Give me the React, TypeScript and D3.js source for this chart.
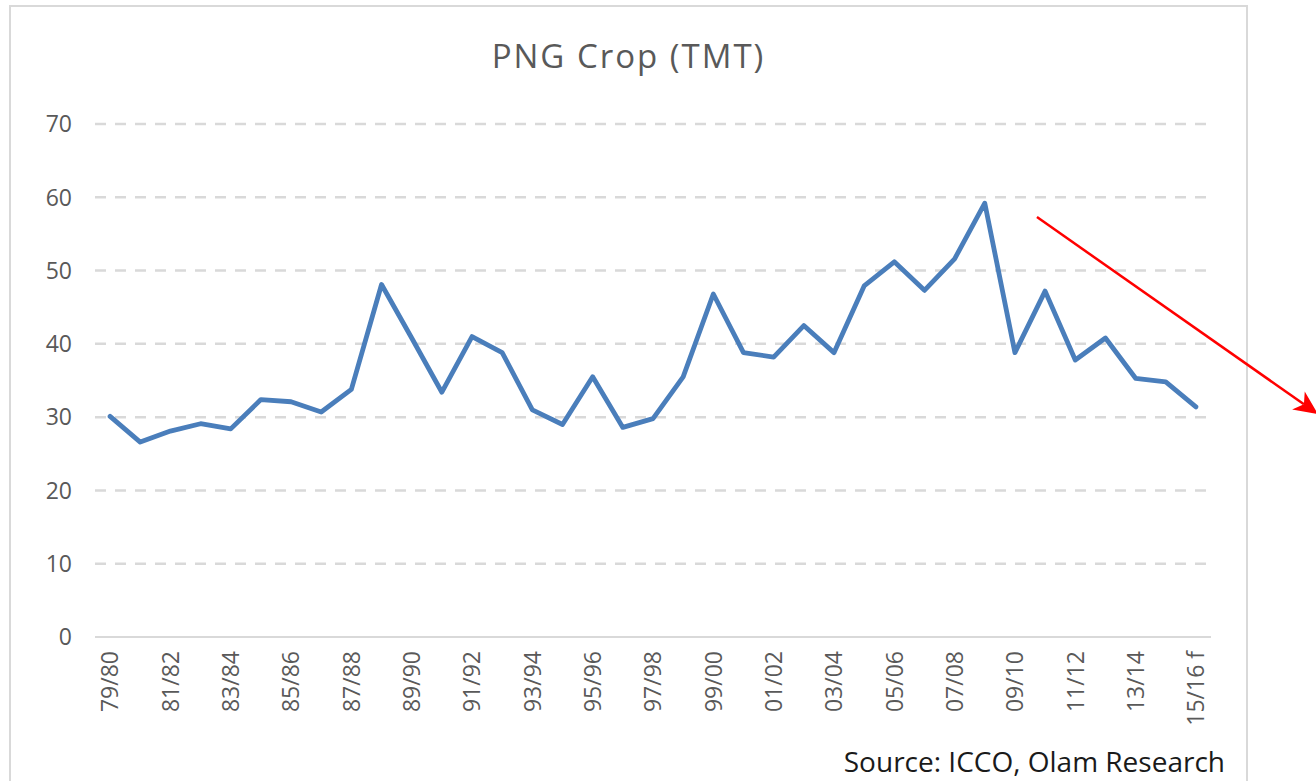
import React from "react";
import * as d3 from "d3";

// PNG cocoa crop by season, thousand metric tonnes
const seasons = [
  "79/80", "80/81", "81/82", "82/83", "83/84", "84/85", "85/86", "86/87",
  "87/88", "88/89", "89/90", "90/91", "91/92", "92/93", "93/94", "94/95",
  "95/96", "96/97", "97/98", "98/99", "99/00", "00/01", "01/02", "02/03",
  "03/04", "04/05", "05/06", "06/07", "07/08", "08/09", "09/10", "10/11",
  "11/12", "12/13", "13/14", "14/15", "15/16 f",
];

const crop = [
  30.1, 26.6, 28.1, 29.1, 28.4, 32.4, 32.1, 30.7,
  33.8, 48.1, 40.8, 33.4, 41.0, 38.8, 31.0, 29.0,
  35.5, 28.6, 29.8, 35.5, 46.8, 38.8, 38.2, 42.5,
  38.8, 47.9, 51.2, 47.3, 51.6, 59.2, 38.8, 47.2,
  37.8, 40.8, 35.3, 34.8, 31.4,
];

const yTicks = [0, 10, 20, 30, 40, 50, 60, 70];

// red trend arrow, in [season index, value]
const trendFrom = [30.73, 57.3];
const trendTo = [40.05, 30.4];

const W = 1316;
const H = 781;
const font = "'Open Sans', 'Noto Sans', sans-serif";

export default function App() {
  const x = d3.scaleLinear().domain([-0.5, seasons.length - 0.5]).range([95, 1211]);
  const y = d3.scaleLinear().domain([0, 70]).range([637, 124]);

  const line = d3
    .line<number>()
    .x((_, i) => x(i))
    .y((d) => y(d));

  // arrow geometry
  const x1 = x(trendFrom[0]);
  const y1 = y(trendFrom[1]);
  const x2 = x(trendTo[0]);
  const y2 = y(trendTo[1]);
  const ang = Math.atan2(y2 - y1, x2 - x1);
  const len = 24;
  const half = 11;
  const bx = x2 - len * Math.cos(ang);
  const by = y2 - len * Math.sin(ang);
  const nx = x2 - len * 0.72 * Math.cos(ang);
  const ny = y2 - len * 0.72 * Math.sin(ang);
  const px = -Math.sin(ang) * half;
  const py = Math.cos(ang) * half;
  const head = `M${x2},${y2}L${bx + px},${by + py}L${nx},${ny}L${bx - px},${by - py}Z`;

  return (
    <svg
      width={W}
      height={H}
      style={{ position: "absolute", left: 0, top: 0, display: "block", background: "#fff" }}
    >
      {/* chart area border */}
      <rect x={10} y={6} width={1237} height={H} fill="#fff" stroke="#d9d9d9" strokeWidth={2} />

      <text
        x={628.5}
        y={68}
        textAnchor="middle"
        fontFamily={font}
        fontSize={33}
        letterSpacing={2}
        fill="#595959"
      >
        PNG Crop (TMT)
      </text>

      {/* gridlines */}
      {yTicks
        .filter((t) => t > 0)
        .map((t) => (
          <line
            key={t}
            x1={95}
            x2={1211}
            y1={y(t)}
            y2={y(t)}
            stroke="#d9d9d9"
            strokeWidth={2.5}
            strokeDasharray="11,9"
          />
        ))}
      <line x1={95} x2={1211} y1={y(0)} y2={y(0)} stroke="#d9d9d9" strokeWidth={2} />

      {/* y axis labels */}
      {yTicks.map((t) => (
        <text
          key={t}
          x={72}
          y={y(t)}
          dy="0.36em"
          textAnchor="end"
          fontFamily={font}
          fontSize={23}
          fill="#595959"
        >
          {t}
        </text>
      ))}

      {/* x axis labels, every other season */}
      {seasons.map((s, i) =>
        i % 2 === 0 ? (
          <text
            key={s}
            transform={`translate(${x(i)},651) rotate(-90)`}
            dy="0.36em"
            textAnchor="end"
            fontFamily={font}
            fontSize={23}
            fill="#595959"
          >
            {s}
          </text>
        ) : null
      )}

      <path
        d={line(crop) || ""}
        fill="none"
        stroke="#4a7ebb"
        strokeWidth={4.8}
        strokeLinejoin="round"
        strokeLinecap="round"
      />

      {/* trend arrow */}
      <line x1={x1} y1={y1} x2={nx} y2={ny} stroke="#ff0000" strokeWidth={2.5} />
      <path d={head} fill="#ff0000" />

      <text
        x={1225}
        y={772}
        textAnchor="end"
        fontFamily={font}
        fontSize={28}
        fill="#1a1a1a"
      >
        Source: ICCO, Olam Research
      </text>
    </svg>
  );
}
